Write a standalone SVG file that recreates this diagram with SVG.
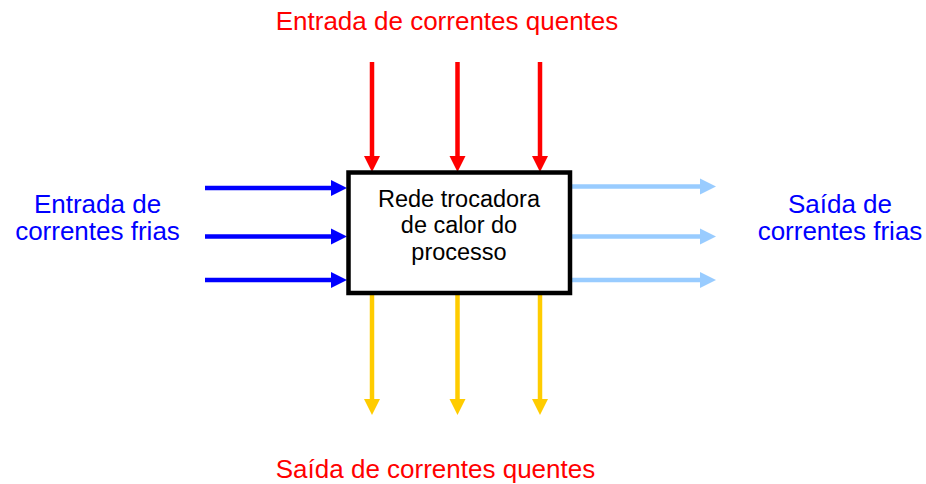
<svg xmlns="http://www.w3.org/2000/svg" width="926" height="484" viewBox="0 0 926 484">
<style>
text{font-family:"Liberation Sans",Arial,sans-serif;text-anchor:middle}
.lbl{font-size:26px}
.red{fill:#FF0000}
.blue{fill:#0000FF}
.box{font-size:23.5px;fill:#000}
.c{stroke-width:4.5;fill:none}
</style>
<defs>
<path id="hd" d="M-8,-16 L8,-16 L0,0 Z"/>
<path id="hrt" d="M-16,-8 L-16,8 L0,0 Z"/>
</defs>
<rect width="926" height="484" fill="#fff"/>
<g id="connectors">
<g stroke="#FF0000" class="c">
<line x1="372" y1="62" x2="372" y2="158"/>
<line x1="457.5" y1="62" x2="457.5" y2="158"/>
<line x1="540" y1="62" x2="540" y2="158"/>
</g>
<g fill="#FF0000">
<use href="#hd" x="372" y="172"/>
<use href="#hd" x="457.5" y="172"/>
<use href="#hd" x="540" y="172"/>
</g>
<g stroke="#0000FF" class="c">
<line x1="205" y1="188" x2="333" y2="188"/>
<line x1="205" y1="236.5" x2="333" y2="236.5"/>
<line x1="205" y1="280" x2="333" y2="280"/>
</g>
<g fill="#0000FF">
<use href="#hrt" x="347" y="188"/>
<use href="#hrt" x="347" y="236.5"/>
<use href="#hrt" x="347" y="280"/>
</g>
<g stroke="#99CCFF" class="c">
<line x1="572" y1="186.5" x2="701" y2="186.5"/>
<line x1="572" y1="236.5" x2="701" y2="236.5"/>
<line x1="572" y1="280" x2="701" y2="280"/>
</g>
<g fill="#99CCFF">
<use href="#hrt" x="716" y="186.5"/>
<use href="#hrt" x="716" y="236.5"/>
<use href="#hrt" x="716" y="280"/>
</g>
<g stroke="#FFCC00" class="c">
<line x1="372" y1="295" x2="372" y2="401"/>
<line x1="457.5" y1="295" x2="457.5" y2="401"/>
<line x1="540" y1="295" x2="540" y2="401"/>
</g>
<g fill="#FFCC00">
<use href="#hd" x="372" y="415"/>
<use href="#hd" x="457.5" y="415"/>
<use href="#hd" x="540" y="415"/>
</g>
</g>
<g id="node-rede">
<rect x="348.5" y="172.5" width="221.5" height="120.5" fill="#fff" stroke="#000" stroke-width="4.5"/>
<text class="box" x="459" y="206.5">Rede trocadora</text>
<text class="box" x="459" y="233">de calor do</text>
<text class="box" x="459" y="259.5">processo</text>
</g>
<g id="label-entrada-quentes">
<text class="lbl red" x="447" y="29.5">Entrada de correntes quentes</text>
</g>
<g id="label-saida-quentes">
<text class="lbl red" x="435.5" y="477.5">Saída de correntes quentes</text>
</g>
<g id="label-entrada-frias">
<text class="lbl blue" x="97.5" y="213">Entrada de</text>
<text class="lbl blue" x="97.5" y="240">correntes frias</text>
</g>
<g id="label-saida-frias">
<text class="lbl blue" x="840" y="213">Saída de</text>
<text class="lbl blue" x="840" y="240">correntes frias</text>
</g>
</svg>
